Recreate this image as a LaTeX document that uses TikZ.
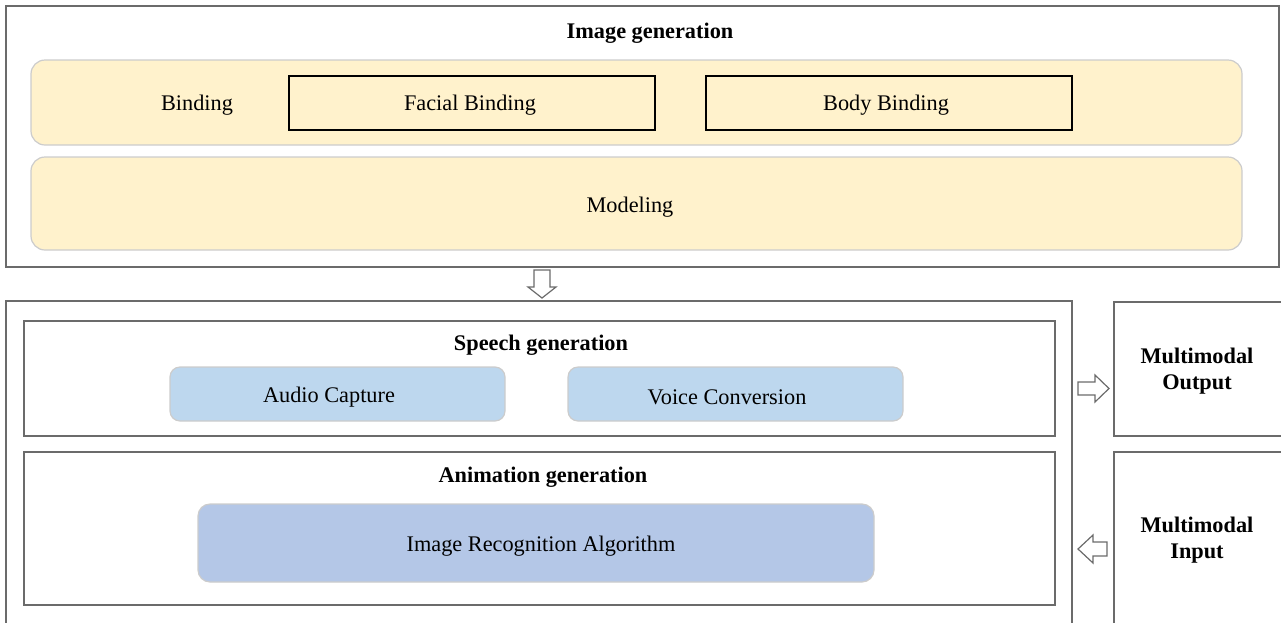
\documentclass[tikz,border=0pt]{standalone}
\usepackage{fontspec}
\setmainfont{Liberation Serif}
\definecolor{frame}{HTML}{6B6B6B}
\definecolor{yel}{HTML}{FFF2CC}
\definecolor{lblue}{HTML}{BDD7EE}
\definecolor{mblue}{HTML}{B4C7E7}
\definecolor{softb}{HTML}{CCCCCC}
\begin{document}
\begin{tikzpicture}[x=1pt,y=-1pt,
  every node/.style={font=\fontsize{22.3}{26}\selectfont},
  outerbox/.style={draw=frame,line width=1.8pt,rectangle,inner sep=0},
  band/.style={draw=softb,line width=1.2pt,rounded corners=14pt,inner sep=0},
  plainbox/.style={draw=black,line width=1.4pt,inner sep=0},
  title/.style={font=\fontsize{22.3}{26}\selectfont\bfseries},
  blockarrow/.style={draw=frame,line width=1.2pt,fill=white,line join=miter}]
\useasboundingbox (0,0) rectangle (1281,622);
\clip (0,0) rectangle (1281,622);
% top section
\node[outerbox,minimum width=1273,minimum height=261] (img) at (642.5,136.5) {};
\node[title] (imgt) at (650,33) {Image generation};
\node[band,fill=yel,minimum width=1211,minimum height=85] (bind) at (636.5,102.5) {};
\node (bindt) at (197,105) {Binding};
\node[plainbox,minimum width=366,minimum height=54] (face) at (472,103) {};
\node (facet) at (470,105) {Facial Binding};
\node[plainbox,minimum width=366,minimum height=54] (body) at (889,103) {};
\node (bodyt) at (886,105) {Body Binding};
\node[band,fill=yel,minimum width=1211,minimum height=93] (model) at (636.5,203.5) {};
\node (modelt) at (630,207) {Modeling};
% bottom section
\node[outerbox,minimum width=1066,minimum height=339] (low) at (539,470.5) {};
\node[outerbox,minimum width=1031,minimum height=115] (speech) at (539.5,378.5) {};
\node[title] (speecht) at (541,345) {Speech generation};
\node[band,fill=lblue,minimum width=335,minimum height=54,rounded corners=10pt] (audio) at (337.5,394) {};
\node (audiot) at (329,397) {Audio Capture};
\node[band,fill=lblue,minimum width=335,minimum height=54,rounded corners=10pt] (voice) at (735.5,394) {};
\node (voicet) at (727,397) {Voice Conversion};
\node[outerbox,minimum width=1031,minimum height=153] (anim) at (539.5,528.5) {};
\node[title] (animt) at (543,477) {Animation generation};
\node[band,fill=mblue,minimum width=676,minimum height=78,rounded corners=12pt] (rec) at (536,543) {};
\node (rect) at (541,546) {Image Recognition Algorithm};
% right boxes
\node[outerbox,minimum width=176,minimum height=134] (out) at (1202,369) {};
\node[title,align=center] (outt) at (1197,371) {Multimodal\\Output};
\node[outerbox,minimum width=176,minimum height=188] (in) at (1202,546) {};
\node[title,align=center] (int) at (1197,540) {Multimodal\\Input};
% block arrows
\draw[blockarrow] (534,270) -- (550,270) -- (550,287) -- (556,287) -- (542,298) -- (528,287) -- (534,287) -- cycle;
\draw[blockarrow] (1078,382) -- (1095,382) -- (1095,375) -- (1109,388.5) -- (1095,402) -- (1095,395) -- (1078,395) -- cycle;
\draw[blockarrow] (1107,542) -- (1093,542) -- (1093,535) -- (1078,549) -- (1093,563) -- (1093,556) -- (1107,556) -- cycle;
\end{tikzpicture}
\end{document}
